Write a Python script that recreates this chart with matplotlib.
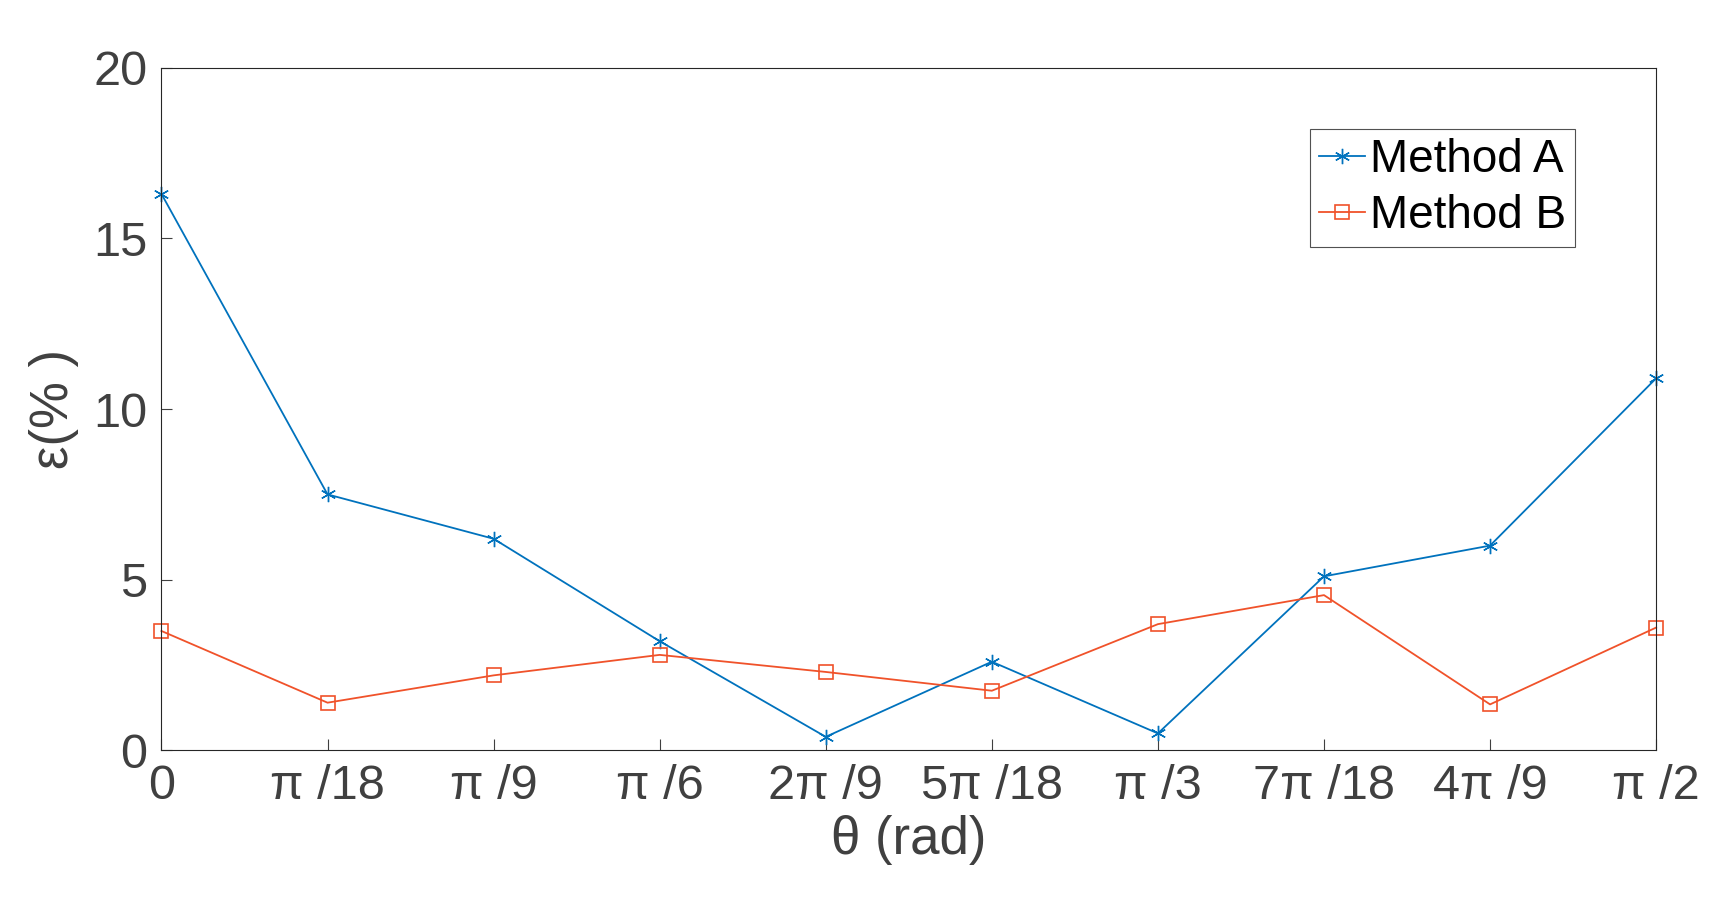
import matplotlib
matplotlib.use("Agg")
import matplotlib.pyplot as plt
import numpy as np

plt.rcParams["font.family"] = ["Liberation Sans", "DejaVu Sans"]

tick_labels = ["0", "π /18", "π /9", "π /6", "2π /9", "5π /18", "π /3", "7π /18", "4π /9", "π /2"]
method_a = [16.3, 7.5, 6.2, 3.2, 0.4, 2.6, 0.5, 5.1, 6.0, 10.9]
method_b = [3.5, 1.4, 2.2, 2.8, 2.3, 1.75, 3.7, 4.55, 1.35, 3.6]

x = np.arange(len(tick_labels))
fig = plt.figure(figsize=(17.36, 9.13), dpi=100)
ax = fig.add_axes([0.093, 0.178, 0.861, 0.748])
ax.plot(x, method_a, "-", marker=(6, 2, 0), color="#0072BD", lw=1.3, ms=11, label="Method A", clip_on=False)
ax.plot(x, method_b, "-", marker="s", mfc="none", color="#F0522A", lw=1.3, ms=10, mew=1.2, label="Method B", clip_on=False)

ax.set_xlim(0, 9)
ax.set_ylim(0, 20)
ax.set_xticks(x, tick_labels)
ax.set_yticks([0, 5, 10, 15, 20])
grey = "#404040"
ax.tick_params(labelsize=35, colors=grey, direction="in", length=8, pad=10)
for s in ax.spines.values():
    s.set_color("#262626")
    s.set_linewidth(0.8)
ax.set_xlabel("θ (rad)", fontsize=38, color=grey, labelpad=4)
ax.set_ylabel("ε(% )", fontsize=38, color=grey, labelpad=10)
leg = ax.legend(loc="upper right", bbox_to_anchor=(0.955, 0.93), fontsize=33,
                fancybox=False, edgecolor="#262626", handlelength=1.0,
                handletextpad=0.1, borderaxespad=0.3, labelspacing=0.25,
                borderpad=0.2)
leg.get_frame().set_linewidth(0.8)
fig.savefig("out.png", dpi=100)
